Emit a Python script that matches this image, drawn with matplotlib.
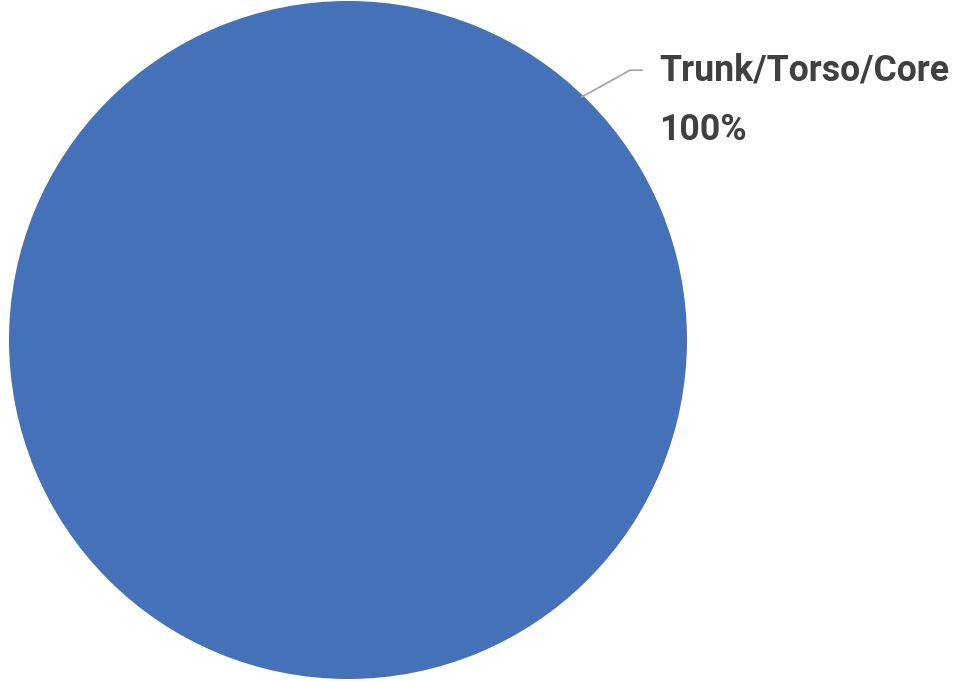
import matplotlib.pyplot as plt

# data
labels = ['Trunk/Torso/Core']
values = [100]
colors = ['#4571b8']

plt.rcParams['font.family'] = ['Roboto', 'DejaVu Sans']

fig = plt.figure(figsize=(9.59, 6.81), dpi=100)
ax = fig.add_axes([9 / 959, 2 / 681, 678 / 959, 678 / 681])
ax.pie(values, colors=colors, radius=1, startangle=90, counterclock=False)
ax.set_xlim(-1, 1)
ax.set_ylim(-1, 1)
ax.set_aspect('equal')
ax.axis('off')

# leader line + label
ax.plot([0.690, 0.832, 0.867], [0.717, 0.796, 0.796], color='#a6a6a6', lw=1.3, clip_on=False)
pct = values[0] / sum(values) * 100
name = ax.text(0.917, 0.796, labels[0], fontsize=27, fontweight='bold', color='#404040',
               va='center', ha='left', clip_on=False)
val = ax.text(0.917, 0.619, f'{pct:.0f}%', fontsize=27, fontweight='bold', color='#404040',
              va='center', ha='left', clip_on=False)

# shrink label so it fits the ~290px the reference uses
fig.canvas.draw()
w = name.get_window_extent().width
fs = 27 * 290 / w
name.set_fontsize(fs)
val.set_fontsize(fs)

fig.savefig('out.png', dpi=100)
